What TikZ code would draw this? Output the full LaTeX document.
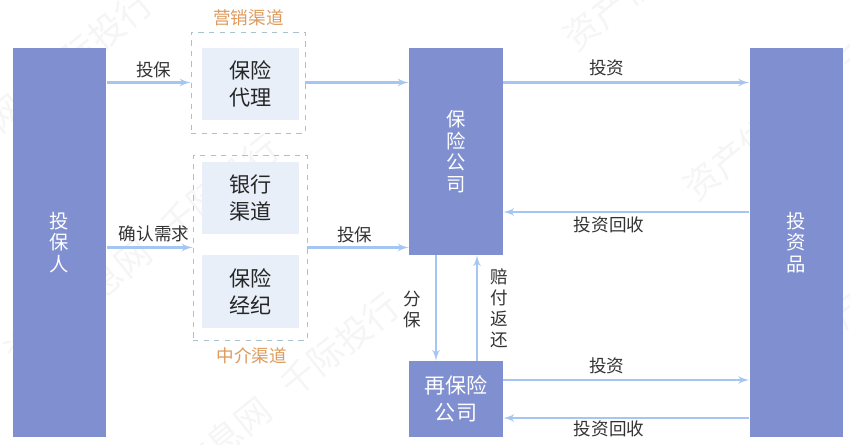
\documentclass[tikz,border=0pt]{standalone}
\usepackage{fontspec}
\setmainfont{Noto Sans CJK SC}
\usetikzlibrary{arrows,positioning}
\definecolor{boxblue}{HTML}{7F8FCF}
\definecolor{paleblue}{HTML}{E8EFF9}
\definecolor{dashgray}{HTML}{A9C2CC}
\definecolor{flowblue}{HTML}{A6C6F2}
\definecolor{labelorange}{HTML}{DD9A5C}
\definecolor{markgray}{HTML}{F5F5F5}
\tikzset{>=latex',auto}
\tikzset{bigbox/.style={fill=boxblue,text=white,minimum width=1.88cm,inner sep=0pt,align=center,font=\fontsize{11}{12.3}\selectfont}}
\tikzset{inbox/.style={fill=paleblue,text=black!85,minimum width=1.94cm,minimum height=1.45cm,inner sep=0pt,align=center,font=\fontsize{12}{15.5}\selectfont}}
\tikzset{dashbox/.style={draw=dashgray,dashed,line width=0.45pt,minimum width=2.28cm,inner sep=0pt}}
\tikzset{flow/.style={->,draw=flowblue,line width=1.15pt}}
\tikzset{edgetext/.style={text=black!80,font=\fontsize{10}{12}\selectfont,inner sep=2pt,align=center}}
\tikzset{chantext/.style={text=labelorange,font=\fontsize{10}{12}\selectfont,inner sep=0pt}}
\tikzset{markbg/.style={text=markgray,font=\fontsize{20}{24}\selectfont,rotate=39,inner sep=0pt}}

\begin{document}
\begin{tikzpicture}[x=0.02cm,y=-0.02cm]
    \clip (0,0) rectangle (850,444);
    % watermark
    \foreach \i/\mx/\my in {1/15/105,2/142/250,3/262/408,4/701/-65,5/821/85,6/941/235}
        \node[markbg] (mark\i) at (\mx,\my) {资产信息网\hspace{0.7em}千际投行};
    % main boxes
    \node[bigbox,minimum height=7.78cm] (buyer) at (59.5,242.5) {投\\保\\人};
    \node[bigbox,minimum height=4.14cm] (insurer) at (456,151.5) {保\\险\\公\\司};
    \node[bigbox,minimum height=1.52cm,font=\fontsize{12}{15.5}\selectfont] (reins) at (456,399) {再保险\\公司};
    \node[bigbox,minimum height=7.78cm] (product) at (796.5,242.5) {投\\资\\品};
    % channels
    \node[dashbox,minimum height=2.02cm] (sales) at (248,82.5) {};
    \node[dashbox,minimum height=3.70cm] (broker) at (250,247.5) {};
    \node[inbox] (agent) at (250.5,84) {保险\\代理};
    \node[inbox] (bank) at (250.5,198) {银行\\渠道};
    \node[inbox] (brokerage) at (250.5,291.5) {保险\\经纪};
    \node[chantext,above=0.10cm of sales,xshift=0.01cm] (salestext) {营销渠道};
    \node[chantext,below=0.14cm of broker,xshift=0.04cm] (brokertext) {中介渠道};
    % helper lines
    \coordinate (backa) at (0,212);
    \coordinate (outb) at (0,380);
    \coordinate (backb) at (0,418);
    \coordinate (downx) at (436,0);
    \coordinate (upx) at (477,0);
    \path[every edge/.style={flow}]
        (buyer.east |- sales) edge node[edgetext,above,pos=.56] (t1) {投保} (sales.west)
        (buyer.east |- broker) edge node[edgetext,above,pos=.55,yshift=0.02cm] (t2) {确认需求} (broker.west)
        (sales.east) edge (insurer.west |- sales)
        (broker.east) edge node[edgetext,above,pos=.47] (t3) {投保} (insurer.west |- broker)
        (insurer.east |- sales) edge node[edgetext,above,pos=.42,yshift=0.04cm] (t4) {投资} (product.west |- sales)
        (product.west |- backa) edge node[edgetext,below,pos=.57] (t5) {投资回收} (insurer.east |- backa)
        (insurer.south -| downx) edge node[edgetext,left,pos=.51,xshift=-0.2cm] (t6) {分\\保} (reins.north -| downx)
        (reins.north -| upx) edge node[edgetext,right,pos=.5,xshift=0.18cm] (t7) {赔\\付\\返\\还} (insurer.south -| upx)
        (reins.east |- outb) edge node[edgetext,above,pos=.42,yshift=0.04cm] (t8) {投资} (product.west |- outb)
        (product.west |- backb) edge node[edgetext,below,pos=.57,yshift=0.03cm] (t9) {投资回收} (reins.east |- backb);
\end{tikzpicture}
\end{document}
